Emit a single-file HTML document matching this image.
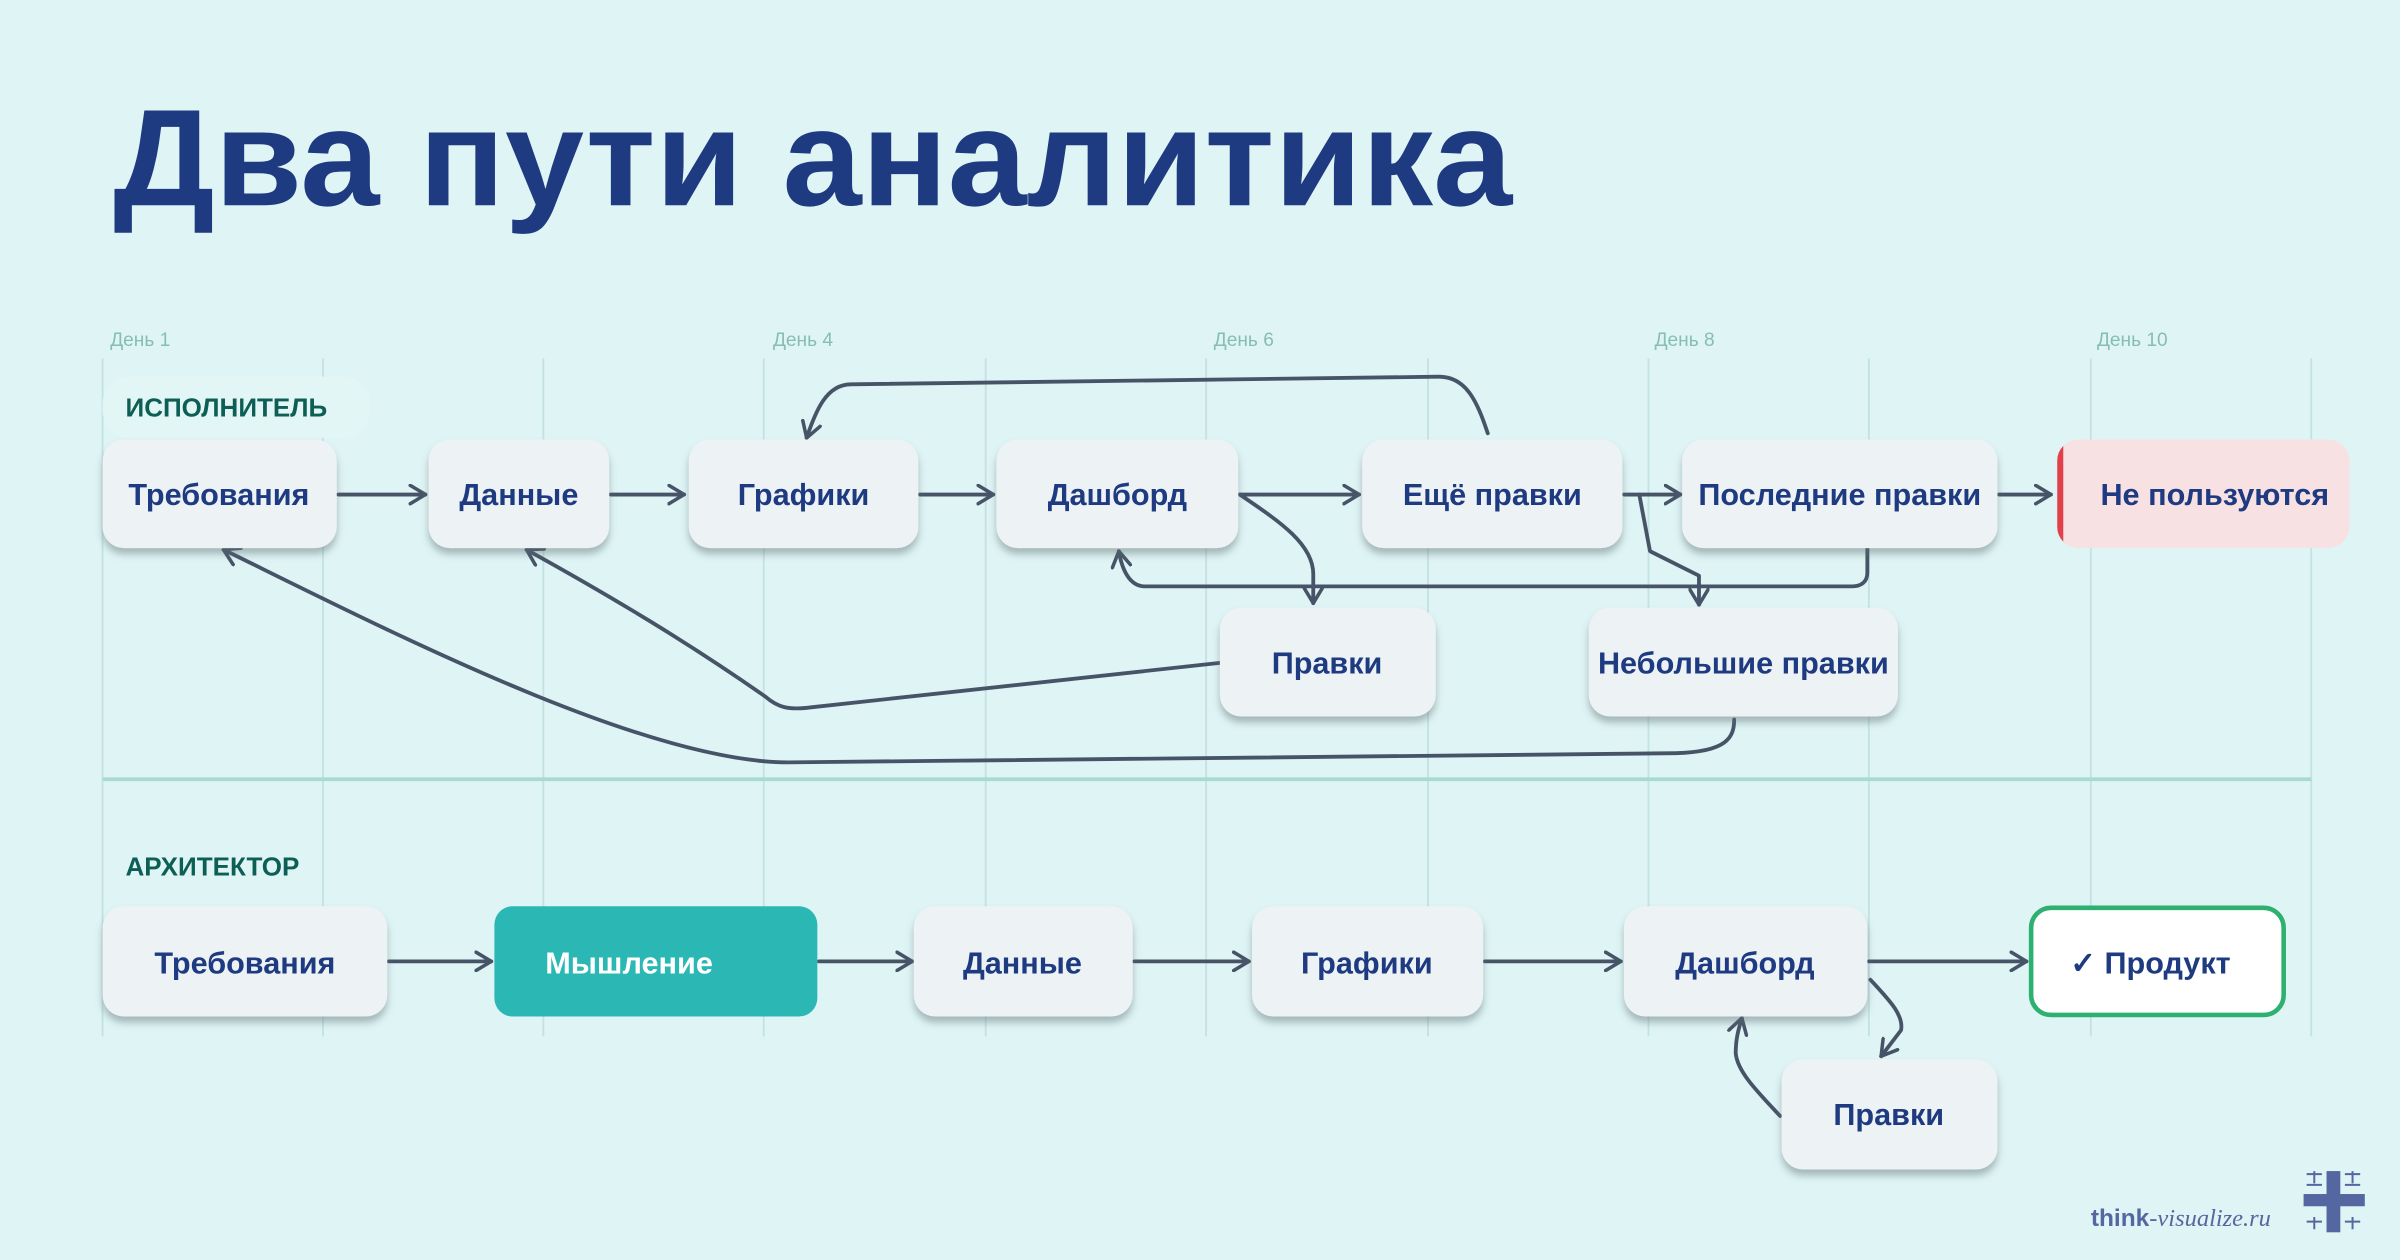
<!DOCTYPE html>
<html><head><meta charset="utf-8"><style>
html,body{margin:0;padding:0;background:#dff4f5;}
svg{display:block}
text{font-family:"Liberation Sans",sans-serif;}
</style></head><body>
<svg width="2400" height="1260" viewBox="0 0 1568 823" xmlns="http://www.w3.org/2000/svg">
<defs>
<marker id="a" viewBox="0 0 12 14" refX="11" refY="7" markerWidth="12" markerHeight="14" markerUnits="userSpaceOnUse" orient="auto">
<path d="M1,1 L11,7 L1,13" fill="none" stroke="#475468" stroke-width="2.3" stroke-linecap="round" stroke-linejoin="round"/>
</marker>
<filter id="sh" x="-20%" y="-20%" width="140%" height="160%">
<feDropShadow dx="0" dy="4" stdDeviation="2.5" flood-color="#5a6e72" flood-opacity="0.45"/>
</filter>
<clipPath id="nc"><rect x="1344" y="287" width="191" height="71" rx="14"/></clipPath>
</defs>
<rect width="1568" height="823" fill="#dff4f5"/>
<text x="74" y="134" font-size="90" font-weight="bold" fill="#1e3a80" textLength="914" lengthAdjust="spacingAndGlyphs">Два пути аналитика</text>
<g font-size="12.5" fill="#86bdb6">
<text x="72" y="226">День 1</text><text x="505" y="226">День 4</text><text x="793" y="226">День 6</text><text x="1081" y="226">День 8</text><text x="1370" y="226">День 10</text>
</g>
<g stroke="#c3e2e2" stroke-width="1.2">
<line x1="67" y1="234" x2="67" y2="677"/><line x1="211" y1="234" x2="211" y2="677"/><line x1="355" y1="234" x2="355" y2="677"/><line x1="499" y1="234" x2="499" y2="677"/><line x1="644" y1="234" x2="644" y2="677"/><line x1="788" y1="234" x2="788" y2="677"/><line x1="933" y1="234" x2="933" y2="677"/><line x1="1077" y1="234" x2="1077" y2="677"/><line x1="1221" y1="234" x2="1221" y2="677"/><line x1="1366" y1="234" x2="1366" y2="677"/><line x1="1510" y1="234" x2="1510" y2="677"/>
</g>
<line x1="67" y1="509" x2="1510" y2="509" stroke="#a9d9d5" stroke-width="2.5"/>
<rect x="67" y="246" width="175" height="40" rx="18" fill="#e3f6f6"/>
<text x="82" y="272" font-size="17" font-weight="bold" fill="#0d5e55">ИСПОЛНИТЕЛЬ</text>
<text x="82" y="572" font-size="17" font-weight="bold" fill="#0d5e55">АРХИТЕКТОР</text>

<g fill="none" stroke="#475468" stroke-width="2.5" stroke-linecap="round" stroke-linejoin="round" marker-end="url(#a)">
<path d="M221,323 L278,323"/><path d="M399,323 L447,323"/><path d="M601,323 L649,323"/><path d="M810,323 L888,323"/><path d="M1061,323 L1098,323"/><path d="M1306,323 L1340,323"/>
<path d="M972,283 C965,262 958,246 940,246 L556,251 C540,251 533,268 527,286"/>
<path d="M810,323 C835,340 858,355 858,375 L858,394"/>
<path d="M1220,358 L1220,374 C1220,380 1216,383 1210,383 L748,383 C738,383 733,372 731,360"/>
<path d="M1071,323 L1078,360 L1110,376 L1110,395"/>
<path d="M797,433 L530,462 C515,464 508,462 500,455 C450,420 400,390 344,359"/>
<path d="M1133,470 C1133,482 1128,491 1095,492 L515,498 C420,498 250,410 146,359"/>
<path d="M254,628 L321,628"/><path d="M535,628 L596,628"/><path d="M741,628 L816,628"/><path d="M970,628 L1059,628"/><path d="M1221,628 L1324,628"/>
<path d="M1222,640 C1234,653 1244,663 1242,673 L1229,690"/>
<path d="M1163,729 C1148,713 1135,700 1134,688 C1134,678 1136,672 1138,665"/>
</g>

<g filter="url(#sh)" fill="#edf2f5">
<rect x="67" y="287" width="153" height="71" rx="14"/>
<rect x="280" y="287" width="118" height="71" rx="14"/>
<rect x="450" y="287" width="150" height="71" rx="14"/>
<rect x="651" y="287" width="158" height="71" rx="14"/>
<rect x="890" y="287" width="170" height="71" rx="14"/>
<rect x="1099" y="287" width="206" height="71" rx="14"/>
<rect x="797" y="397" width="141" height="71" rx="14"/>
<rect x="1038" y="397" width="202" height="71" rx="14"/>
<rect x="67" y="592" width="186" height="72" rx="14"/>
<rect x="597" y="592" width="143" height="72" rx="14"/>
<rect x="818" y="592" width="151" height="72" rx="14"/>
<rect x="1061" y="592" width="159" height="72" rx="14"/>
<rect x="1164" y="692" width="141" height="72" rx="14"/>
</g>
<rect x="1344" y="287" width="191" height="71" rx="14" fill="#f7e1e3"/>
<rect x="1344" y="287" width="4" height="71" fill="#e0404a" clip-path="url(#nc)"/>
<rect x="323" y="592" width="211" height="72" rx="12" fill="#2bb8b5"/>
<rect x="1327" y="593" width="165" height="70" rx="13" fill="#ffffff" stroke="#2db070" stroke-width="3"/>

<g font-size="20" font-weight="bold" fill="#1e3a80" text-anchor="middle">
<text x="143" y="330">Требования</text>
<text x="339" y="330">Данные</text>
<text x="525" y="330">Графики</text>
<text x="730" y="330">Дашборд</text>
<text x="975" y="330">Ещё правки</text>
<text x="1202" y="330">Последние правки</text>
<text x="1447" y="330">Не пользуются</text>
<text x="867" y="440">Правки</text>
<text x="1139" y="440">Небольшие правки</text>
<text x="160" y="636">Требования</text>
<text x="668" y="636">Данные</text>
<text x="893" y="636">Графики</text>
<text x="1140" y="636">Дашборд</text>
<text x="1405" y="636">✓ Продукт</text>
<text x="1234" y="735">Правки</text>
<text x="411" y="636" fill="#ffffff">Мышление</text>
</g>

<text x="1366" y="801" font-size="16" fill="#5567a0"><tspan font-weight="bold">think</tspan><tspan font-family="Liberation Serif,serif" font-style="italic">-visualize.ru</tspan></text>
<g fill="#5567a0">
<rect x="1520" y="765" width="9" height="40"/>
<rect x="1505" y="780" width="40" height="8"/>
<g stroke="#5567a0" stroke-width="1.3">
<path d="M1507,767h10M1512,765v8M1532,767h10M1537,765v8M1507,798h10M1512,795v8M1532,798h10M1537,795v8M1507,774h10M1532,774h10"/>
</g>
</g>
</svg>
</body></html>
